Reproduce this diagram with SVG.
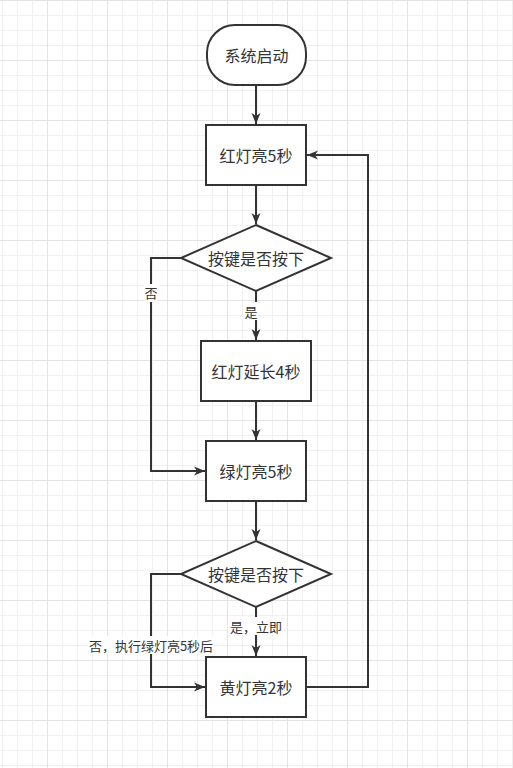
<svg xmlns="http://www.w3.org/2000/svg" width="513" height="768" viewBox="0 0 513 768">
<defs>
<pattern id="grid" x="-13" y="0" width="60" height="60" patternUnits="userSpaceOnUse">
<path d="M15.5 0V60M30.5 0V60M45.5 0V60M0 15.5H60M0 30.5H60M0 45.5H60" stroke="#f0f0f0" stroke-width="1" fill="none"/>
<path d="M0.5 0V60M0 0.5H60" stroke="#e3e3e3" stroke-width="1" fill="none"/>
</pattern>
<marker id="arr" markerUnits="userSpaceOnUse" markerWidth="12" markerHeight="10" viewBox="0 0 12 10" refX="11" refY="5" orient="auto">
<path d="M0 0.5L11 5L0 9.5L3 5Z" fill="#333333"/>
</marker>
<style>
.n{fill:#ffffff;stroke:#333333;stroke-width:2}
.t{font-family:"Microsoft YaHei","Noto Sans CJK SC",sans-serif;font-size:16px;fill:#333333;text-anchor:middle;dominant-baseline:central}
.l{font-family:"Microsoft YaHei","Noto Sans CJK SC",sans-serif;font-size:13px;fill:#333333;text-anchor:middle;dominant-baseline:central}
.c{fill:none;stroke:#333333;stroke-width:2;marker-end:url(#arr)}
.bg{fill:#ffffff}
</style>
</defs>
<rect width="513" height="768" fill="#ffffff"/>
<rect width="513" height="768" fill="url(#grid)"/>
<g id="connectors">
<path class="c" d="M256 85V124"/>
<path class="c" d="M256 185V224"/>
<path class="c" d="M256 291V340"/>
<path class="c" d="M181 258H151V471H205"/>
<path class="c" d="M256 401V440"/>
<path class="c" d="M256 501V540"/>
<path class="c" d="M256 607V656"/>
<path class="c" d="M181 574H151V687H205"/>
<path class="c" d="M306 687H368V155H307"/>
<rect class="bg" x="244" y="302" width="14" height="18"/>
<text class="l" x="251" y="311">是</text>
<rect class="bg" x="144" y="284" width="14" height="18"/>
<text class="l" x="151" y="292">否</text>
<rect class="bg" x="229" y="617" width="54" height="18"/>
<text class="l" x="256" y="626">是，立即</text>
<rect class="bg" x="88" y="636" width="126" height="18"/>
<text class="l" x="151" y="645">否，执行绿灯亮5秒后</text>
</g>
<g id="start">
<rect class="n" x="207" y="25" width="99" height="60" rx="28" ry="28"/>
<text class="t" x="256.5" y="55">系统启动</text>
</g>
<g id="red">
<rect class="n" x="206" y="125" width="100" height="60"/>
<text class="t" x="256" y="155">红灯亮5秒</text>
</g>
<g id="decision1">
<path class="n" d="M256 225L331 258L256 291L181 258Z"/>
<text class="t" x="256" y="258">按键是否按下</text>
</g>
<g id="redExtend">
<rect class="n" x="201" y="341" width="110" height="60"/>
<text class="t" x="256" y="371">红灯延长4秒</text>
</g>
<g id="green">
<rect class="n" x="206" y="441" width="100" height="60"/>
<text class="t" x="256" y="471">绿灯亮5秒</text>
</g>
<g id="decision2">
<path class="n" d="M256 541L331 574L256 607L181 574Z"/>
<text class="t" x="256" y="574">按键是否按下</text>
</g>
<g id="yellow">
<rect class="n" x="206" y="657" width="100" height="60"/>
<text class="t" x="256" y="687">黄灯亮2秒</text>
</g>
</svg>
